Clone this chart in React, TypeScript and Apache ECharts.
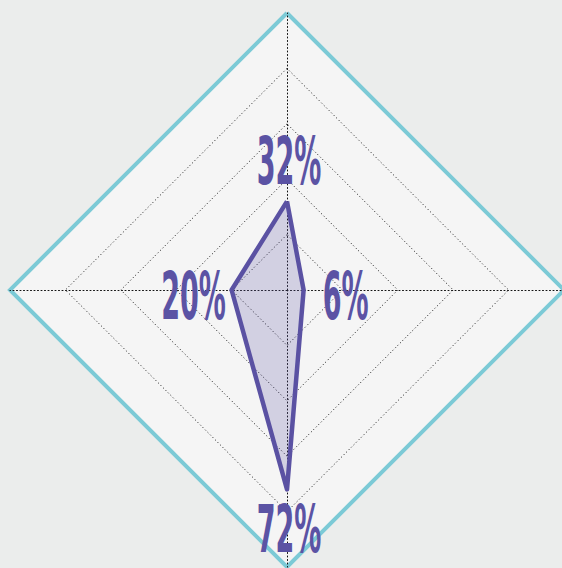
import React, { useEffect, useRef } from "react";
import * as echarts from "echarts";

const indicatorNames = ["Top", "Left", "Bottom", "Right"];
const values = [32, 20, 72, 6];
const maxValue = 100;
const labelTexts = values.map((v) => `${v}%`);

const CENTER: [number, number] = [287, 290];
const RADIUS = 277;
const LABEL_OFFSET = 40;
// unit directions for the radar axes (top, left, bottom, right)
const DIRS: [number, number][] = [
  [0, -1],
  [-1, 0],
  [0, 1],
  [1, 0],
];

export default function App() {
  const ref = useRef<HTMLDivElement>(null);
  useEffect(() => {
    if (!ref.current) return;
    const chart = echarts.init(ref.current, undefined, { renderer: "svg" });
    const indicator = indicatorNames.map((name) => ({ name, max: maxValue }));
    const graphics = values.map((v, i) => {
      const d = (v / maxValue) * RADIUS + LABEL_OFFSET;
      const [dx, dy] = DIRS[i];
      return {
        type: "text",
        x: CENTER[0] + 2 + dx * d,
        y: CENTER[1] + dy * d + (dy === 0 ? 6 : 0),
        scaleX: 0.41,
        z: 100,
        style: {
          text: labelTexts[i],
          fontSize: 66,
          fontFamily: "DejaVu Sans",
          fontWeight: "bold",
          fill: "#5b53a4",
          align: "center",
          verticalAlign: "middle",
        },
      };
    });
    chart.setOption({
      animation: false,
      backgroundColor: "#ebedec",
      radar: [
        {
          center: CENTER,
          radius: RADIUS,
          indicator,
          splitNumber: 5,
          axisName: { show: false },
          axisLine: { lineStyle: { color: "#111", width: 1, type: [1, 2.5] } },
          splitLine: { lineStyle: { color: "#111", width: 1, type: [1, 2.5] } },
          splitArea: { areaStyle: { color: ["#f5f5f5"] } },
        },
        {
          center: CENTER,
          radius: RADIUS,
          indicator,
          splitNumber: 1,
          axisName: { show: false },
          axisLine: { show: false },
          splitLine: { lineStyle: { color: "#7ccad6", width: 4 } },
          splitArea: { show: false },
        },
      ],
      series: [
        {
          type: "radar",
          radarIndex: 0,
          symbol: "none",
          z: 10,
          lineStyle: { color: "#5b52a3", width: 4.5 },
          areaStyle: { color: "rgba(91,82,163,0.32)" },
          data: [{ value: values, name: "share" }],
        },
      ],
      graphic: graphics,
    });
    return () => chart.dispose();
  }, []);
  return (
    <div
      ref={ref}
      style={{ position: "fixed", left: 0, top: 0, width: 562, height: 568 }}
    />
  );
}
